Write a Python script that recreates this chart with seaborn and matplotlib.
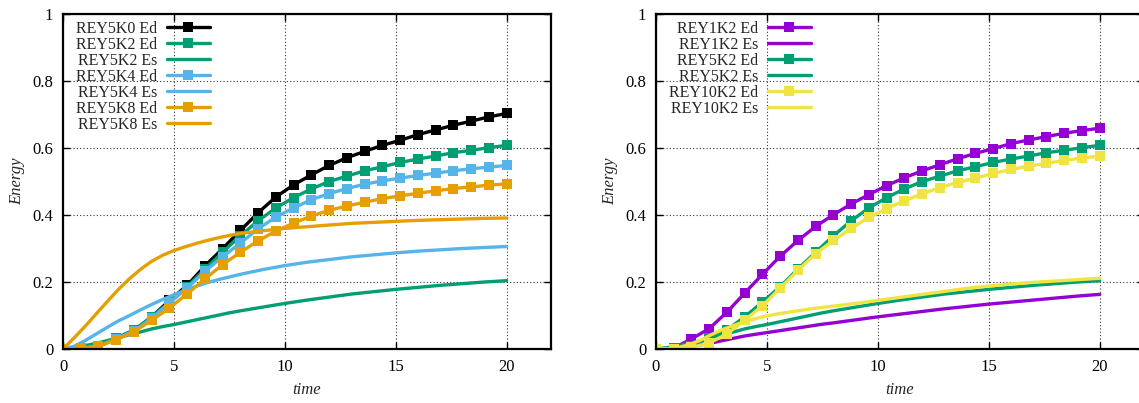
import numpy as np
import pandas as pd
import matplotlib
matplotlib.use("Agg")
import matplotlib.pyplot as plt
import seaborn as sns

# ---- data ----
t_ed = [0.0, 0.8, 1.6, 2.4, 3.2, 4.0, 4.8, 5.6, 6.4, 7.2, 8.0, 8.8, 9.6, 10.4,
        11.2, 12.0, 12.8, 13.6, 14.4, 15.2, 16.0, 16.8, 17.6, 18.4, 19.2, 20.0]
t_es = [0, 0.5, 1, 1.5, 2, 2.5, 3, 3.5, 4, 4.5, 5, 5.5, 6, 6.5, 7, 7.5, 8,
        9, 10, 11, 12, 13, 14, 15, 16, 17, 18, 19, 20]

rey5k0_ed = [0, 0.002, 0.009, 0.030, 0.054, 0.096, 0.145, 0.190, 0.248, 0.300, 0.354,
             0.407, 0.454, 0.490, 0.520, 0.548, 0.571, 0.590, 0.608, 0.623, 0.640,
             0.654, 0.668, 0.680, 0.693, 0.703]
rey5k2_ed = [0, 0.002, 0.009, 0.033, 0.057, 0.096, 0.140, 0.186, 0.239, 0.289, 0.338,
             0.383, 0.421, 0.452, 0.478, 0.500, 0.516, 0.532, 0.544, 0.557, 0.567,
             0.576, 0.586, 0.593, 0.601, 0.608]
rey5k4_ed = [0, 0.002, 0.009, 0.030, 0.053, 0.092, 0.138, 0.182, 0.232, 0.276, 0.316,
             0.359, 0.394, 0.421, 0.446, 0.464, 0.479, 0.492, 0.502, 0.510, 0.518,
             0.525, 0.532, 0.538, 0.543, 0.548]
rey5k8_ed = [0, 0.001, 0.008, 0.028, 0.052, 0.086, 0.122, 0.165, 0.209, 0.252, 0.289,
             0.323, 0.352, 0.376, 0.397, 0.414, 0.427, 0.438, 0.449, 0.457, 0.465,
             0.472, 0.479, 0.484, 0.489, 0.493]
rey1k2_ed = [0, 0.003, 0.030, 0.061, 0.110, 0.167, 0.223, 0.277, 0.324, 0.366, 0.401,
             0.433, 0.461, 0.488, 0.511, 0.532, 0.550, 0.568, 0.584, 0.598, 0.613,
             0.624, 0.634, 0.644, 0.652, 0.659]
rey10k2_ed = [0, 0.001, 0.005, 0.018, 0.045, 0.086, 0.129, 0.182, 0.235, 0.285, 0.324,
              0.360, 0.393, 0.419, 0.443, 0.463, 0.482, 0.497, 0.510, 0.524, 0.536,
              0.546, 0.554, 0.563, 0.570, 0.576]

rey5k2_es = [0, 0.004, 0.010, 0.017, 0.025, 0.034, 0.043, 0.051, 0.060, 0.067, 0.073,
             0.080, 0.087, 0.094, 0.101, 0.108, 0.114, 0.125, 0.136, 0.146, 0.155,
             0.164, 0.171, 0.178, 0.184, 0.190, 0.195, 0.200, 0.204]
rey5k4_es = [0, 0.008, 0.025, 0.045, 0.065, 0.084, 0.100, 0.117, 0.133, 0.148, 0.162,
             0.175, 0.187, 0.198, 0.207, 0.215, 0.223, 0.237, 0.249, 0.259, 0.267,
             0.275, 0.281, 0.287, 0.292, 0.296, 0.300, 0.303, 0.306]
rey5k8_es = [0, 0.033, 0.068, 0.105, 0.142, 0.178, 0.210, 0.238, 0.262, 0.280, 0.294,
             0.305, 0.315, 0.324, 0.332, 0.339, 0.345, 0.353, 0.360, 0.365, 0.370,
             0.375, 0.378, 0.381, 0.384, 0.386, 0.388, 0.390, 0.391]
rey1k2_es = [0, 0.001, 0.003, 0.007, 0.012, 0.018, 0.025, 0.032, 0.039, 0.044, 0.049,
             0.054, 0.059, 0.064, 0.069, 0.074, 0.078, 0.087, 0.096, 0.104, 0.112,
             0.120, 0.127, 0.134, 0.140, 0.146, 0.152, 0.158, 0.163]
rey10k2_es = [0, 0.001, 0.004, 0.013, 0.026, 0.043, 0.058, 0.070, 0.082, 0.091, 0.099,
              0.105, 0.110, 0.115, 0.120, 0.124, 0.128, 0.136, 0.145, 0.154, 0.163,
              0.172, 0.181, 0.188, 0.194, 0.199, 0.203, 0.207, 0.211]

x_ticks = [0, 5, 10, 15, 20]
y_ticks = [0, 0.2, 0.4, 0.6, 0.8, 1]
y_tick_labels = ["0", "0.2", "0.4", "0.6", "0.8", "1"]

left_series = [
    ("REY5K0 Ed", t_ed, rey5k0_ed, "#000000", True),
    ("REY5K2 Ed", t_ed, rey5k2_ed, "#009e73", True),
    ("REY5K2 Es", t_es, rey5k2_es, "#009e73", False),
    ("REY5K4 Ed", t_ed, rey5k4_ed, "#56b4e9", True),
    ("REY5K4 Es", t_es, rey5k4_es, "#56b4e9", False),
    ("REY5K8 Ed", t_ed, rey5k8_ed, "#e69f00", True),
    ("REY5K8 Es", t_es, rey5k8_es, "#e69f00", False),
]
right_series = [
    ("REY1K2 Ed", t_ed, rey1k2_ed, "#9400d3", True),
    ("REY1K2 Es", t_es, rey1k2_es, "#9400d3", False),
    ("REY5K2 Ed", t_ed, rey5k2_ed, "#009e73", True),
    ("REY5K2 Es", t_es, rey5k2_es, "#009e73", False),
    ("REY10K2 Ed", t_ed, rey10k2_ed, "#f0e442", True),
    ("REY10K2 Es", t_es, rey10k2_es, "#f0e442", False),
]

sns.set_theme(style="ticks")
plt.rcParams["font.family"] = ["Liberation Serif", "DejaVu Serif"]
plt.rcParams["font.size"] = 12

fig = plt.figure(figsize=(11.39, 4.03), dpi=100)
ax1 = fig.add_axes([63 / 1139, 54 / 403, (551 - 63) / 1139, 335 / 403])
ax2 = fig.add_axes([656 / 1139, 54 / 403, (1144 - 656) / 1139, 335 / 403])


def draw(ax, series, anchor):
    for label, tx, ty, color, marked in series:
        df = pd.DataFrame({"time": tx, "Energy": ty})
        sns.lineplot(data=df, x="time", y="Energy", ax=ax, color=color,
                     linewidth=2.4, marker="s" if marked else None,
                     markersize=7.3 if marked else 0, markeredgewidth=0,
                     label=label, estimator=None, sort=False)
    ax.set_xlim(0, 22)
    ax.set_ylim(0, 1)
    ax.set_xticks(x_ticks)
    ax.set_xticklabels([str(v) for v in x_ticks])
    ax.set_yticks(y_ticks)
    ax.set_yticklabels(y_tick_labels)
    ax.tick_params(direction="in", top=True, right=True, length=5, width=1,
                   labelsize=12, colors="black", pad=7)
    ax.grid(True, linestyle=(0, (1, 2)), color="#333333", linewidth=0.8)
    for sp in ax.spines.values():
        sp.set_linewidth(1.6)
        sp.set_color("black")
        sp.set_visible(True)
    ax.set_xlabel("time", fontstyle="italic", fontsize=12, labelpad=5)
    ax.set_ylabel("Energy", fontstyle="italic", fontsize=12, labelpad=5)
    leg = ax.legend(loc="upper left", bbox_to_anchor=anchor, frameon=False,
                    markerfirst=False, fontsize=11.5, handlelength=2.7,
                    handletextpad=0.6, labelspacing=0.0, borderaxespad=0,
                    borderpad=0.2)
    return leg


draw(ax1, left_series, (0.02, 0.99))
draw(ax2, right_series, (0.02, 0.99))

fig.savefig("out.png", dpi=100)
